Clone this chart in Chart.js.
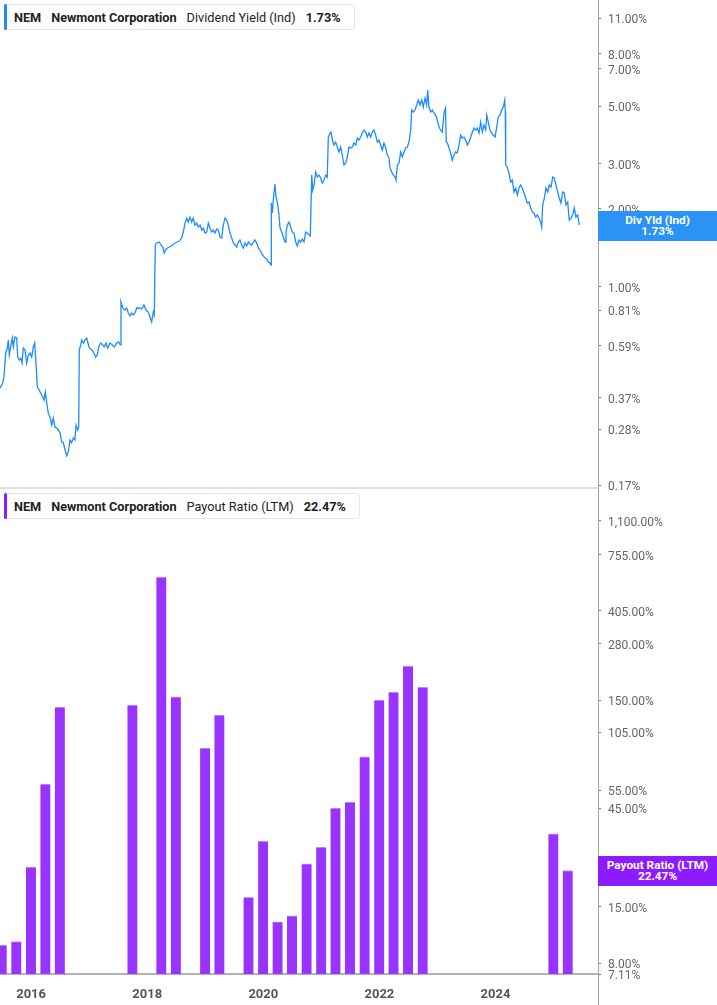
<!DOCTYPE html>
<html>
<head>
<meta charset="utf-8">
<title>NEM dividend yield and payout ratio</title>
<script src="https://cdn.jsdelivr.net/npm/chart.js@4.4.1/dist/chart.umd.min.js"></script>
<style>
  html, body { margin: 0; padding: 0; background: #fff; }
  body { width: 717px; height: 1005px; position: relative; overflow: hidden; font-family: Roboto, sans-serif; }
  .panel { position: absolute; left: 0; width: 717px; }
  #topPanel { top: 0; height: 496px; }
  #botPanel { top: 489px; height: 516px; }
  .legend {
    position: absolute; left: 4px; height: 26px; box-sizing: border-box;
    border: 1px solid #e6e6e6; border-radius: 3px; background: #fff;
    display: flex; align-items: center; gap: 10px;
    padding: 0 13px 0 9px; font-size: 12.7px; color: #222; white-space: nowrap;
  }
  .legend .bar { position: absolute; left: -1px; top: -1px; bottom: -1px; width: 3px; border-radius: 2px; }
  .legend b { font-weight: 700; }
  .tag {
    position: absolute; left: 598px; width: 119px; height: 30px; box-sizing: border-box;
    padding-top: 4px; color: #fff; font-weight: 700; font-size: 11.8px; line-height: 11px; text-align: center;
  }
  #axisLine { position: absolute; left: 598px; top: 0; width: 1px; height: 1005px; background: #a3a3a3; }
  #sep { position: absolute; left: 0; top: 487px; width: 598px; height: 2px; background: #e0e0e0; }
</style>
</head>
<body>
<div id="botPanel" class="panel"><canvas id="payoutChart" width="717" height="516"></canvas></div>
<div id="topPanel" class="panel"><canvas id="yieldChart" width="717" height="496"></canvas></div>
<div id="sep"></div>
<div id="axisLine"></div>

<div class="legend" style="top:4px">
  <span class="bar" style="background:#1e8cff"></span>
  <b>NEM</b><b>Newmont Corporation</b><span>Dividend Yield (Ind)</span><b>1.73%</b>
</div>
<div class="legend" style="top:493px">
  <span class="bar" style="background:#8c1cff"></span>
  <b>NEM</b><b>Newmont Corporation</b><span>Payout Ratio (LTM)</span><b>22.47%</b>
</div>
<div class="tag" style="top:211px;background:#2a93f5">Div Yld (Ind)<br>1.73%</div>
<div class="tag" style="top:856px;background:#8c1cff">Payout Ratio (LTM)<br>22.47%</div>

<script>
// time window shared by both panels (decimal years)
var xMin = 2015.464;
var xMax = 2025.766;
var yearTicks = [2016, 2018, 2020, 2022, 2024];

// dividend yield (ind), %
var lineYears = [
  2015.464, 2015.511, 2015.533, 2015.562, 2015.590, 2015.607, 2015.624, 2015.653, 2015.676, 2015.693,
  2015.722, 2015.752, 2015.769, 2015.796, 2015.821, 2015.843, 2015.865, 2015.895, 2015.924, 2015.952,
  2015.981, 2016.010, 2016.038, 2016.062, 2016.084, 2016.107, 2016.141, 2016.165, 2016.200, 2016.222,
  2016.244, 2016.269, 2016.296, 2016.325, 2016.355, 2016.382, 2016.411, 2016.441, 2016.469, 2016.498,
  2016.527, 2016.555, 2016.584, 2016.613, 2016.641, 2016.670, 2016.699, 2016.727, 2016.756, 2016.774,
  2016.803, 2016.820, 2016.830, 2016.854, 2016.872, 2016.899, 2016.928, 2016.958, 2016.980, 2017.003,
  2017.044, 2017.071, 2017.113, 2017.140, 2017.164, 2017.199, 2017.233, 2017.261, 2017.290, 2017.319,
  2017.359, 2017.399, 2017.433, 2017.474, 2017.509, 2017.536, 2017.548, 2017.578, 2017.617, 2017.647,
  2017.674, 2017.704, 2017.733, 2017.760, 2017.790, 2017.819, 2017.864, 2017.905, 2017.945, 2017.979,
  2018.019, 2018.048, 2018.077, 2018.105, 2018.122, 2018.139, 2018.163, 2018.208, 2018.237, 2018.267,
  2018.294, 2018.324, 2018.353, 2018.381, 2018.410, 2018.439, 2018.479, 2018.518, 2018.553, 2018.594,
  2018.622, 2018.651, 2018.680, 2018.708, 2018.737, 2018.766, 2018.794, 2018.823, 2018.853, 2018.880,
  2018.910, 2018.939, 2018.966, 2018.996, 2019.025, 2019.053, 2019.082, 2019.111, 2019.139, 2019.168,
  2019.197, 2019.225, 2019.254, 2019.283, 2019.311, 2019.340, 2019.369, 2019.397, 2019.426, 2019.456,
  2019.483, 2019.512, 2019.542, 2019.569, 2019.598, 2019.628, 2019.655, 2019.685, 2019.714, 2019.742,
  2019.771, 2019.800, 2019.828, 2019.857, 2019.886, 2019.914, 2019.943, 2019.972, 2020.000, 2020.029,
  2020.058, 2020.086, 2020.115, 2020.133, 2020.138, 2020.155, 2020.172, 2020.201, 2020.219, 2020.241,
  2020.265, 2020.288, 2020.317, 2020.345, 2020.374, 2020.391, 2020.414, 2020.443, 2020.472, 2020.500,
  2020.529, 2020.558, 2020.586, 2020.615, 2020.644, 2020.672, 2020.701, 2020.730, 2020.758, 2020.792,
  2020.810, 2020.834, 2020.851, 2020.873, 2020.903, 2020.930, 2020.960, 2020.989, 2021.016, 2021.046,
  2021.075, 2021.102, 2021.120, 2021.149, 2021.166, 2021.189, 2021.218, 2021.247, 2021.275, 2021.304,
  2021.333, 2021.361, 2021.390, 2021.420, 2021.447, 2021.476, 2021.506, 2021.533, 2021.562, 2021.592,
  2021.619, 2021.648, 2021.678, 2021.705, 2021.735, 2021.764, 2021.792, 2021.821, 2021.850, 2021.878,
  2021.907, 2021.936, 2021.964, 2021.993, 2022.022, 2022.050, 2022.079, 2022.109, 2022.136, 2022.165,
  2022.183, 2022.212, 2022.240, 2022.269, 2022.286, 2022.309, 2022.338, 2022.367, 2022.395, 2022.424,
  2022.453, 2022.481, 2022.510, 2022.539, 2022.557, 2022.584, 2022.613, 2022.643, 2022.670, 2022.700,
  2022.729, 2022.756, 2022.786, 2022.815, 2022.832, 2022.854, 2022.884, 2022.911, 2022.941, 2022.970,
  2022.997, 2023.027, 2023.056, 2023.084, 2023.113, 2023.139, 2023.151, 2023.173, 2023.199, 2023.228,
  2023.256, 2023.285, 2023.315, 2023.342, 2023.371, 2023.401, 2023.428, 2023.457, 2023.487, 2023.515,
  2023.544, 2023.573, 2023.601, 2023.630, 2023.659, 2023.687, 2023.716, 2023.745, 2023.773, 2023.802,
  2023.831, 2023.849, 2023.876, 2023.905, 2023.935, 2023.962, 2023.992, 2024.021, 2024.048, 2024.078,
  2024.107, 2024.135, 2024.159, 2024.169, 2024.176, 2024.203, 2024.233, 2024.262, 2024.290, 2024.319,
  2024.348, 2024.376, 2024.405, 2024.434, 2024.462, 2024.491, 2024.520, 2024.548, 2024.577, 2024.607,
  2024.634, 2024.663, 2024.693, 2024.720, 2024.750, 2024.779, 2024.796, 2024.813, 2024.841, 2024.870,
  2024.900, 2024.927, 2024.956, 2024.986, 2025.013, 2025.042, 2025.072, 2025.099, 2025.128, 2025.158,
  2025.185, 2025.214, 2025.244, 2025.271, 2025.301, 2025.330, 2025.357, 2025.387, 2025.416, 2025.444
];
var divYield = [
  0.404, 0.423, 0.446, 0.553, 0.578, 0.621, 0.543, 0.594, 0.632, 0.583,
  0.638, 0.632, 0.533, 0.519, 0.528, 0.505, 0.578, 0.568, 0.505, 0.543,
  0.553, 0.533, 0.583, 0.604, 0.505, 0.408, 0.397, 0.386, 0.373, 0.363,
  0.390, 0.354, 0.323, 0.312, 0.290, 0.309, 0.285, 0.283, 0.278, 0.271,
  0.250, 0.248, 0.233, 0.221, 0.229, 0.254, 0.248, 0.259, 0.254, 0.290,
  0.278, 0.285, 0.568, 0.594, 0.621, 0.604, 0.621, 0.632, 0.604, 0.578,
  0.568, 0.558, 0.533, 0.543, 0.583, 0.604, 0.594, 0.583, 0.604, 0.578,
  0.604, 0.594, 0.583, 0.604, 0.610, 0.594, 0.871, 0.826, 0.811, 0.826,
  0.790, 0.769, 0.790, 0.776, 0.790, 0.826, 0.826, 0.819, 0.848, 0.811,
  0.797, 0.762, 0.729, 0.797, 0.776, 1.450, 1.476, 1.489, 1.450, 1.424,
  1.349, 1.398, 1.411, 1.424, 1.437, 1.450, 1.476, 1.489, 1.502, 1.543,
  1.628, 1.763, 1.844, 1.779, 1.861, 1.779, 1.844, 1.732, 1.763, 1.702,
  1.732, 1.657, 1.687, 1.613, 1.628, 1.763, 1.687, 1.628, 1.657, 1.613,
  1.672, 1.657, 1.557, 1.543, 1.732, 1.844, 1.811, 1.732, 1.613, 1.543,
  1.476, 1.450, 1.424, 1.489, 1.516, 1.450, 1.411, 1.476, 1.437, 1.489,
  1.463, 1.450, 1.489, 1.516, 1.476, 1.411, 1.386, 1.349, 1.314, 1.290,
  1.279, 1.245, 1.234, 1.212, 2.109, 1.929, 2.166, 2.498, 2.225, 2.128,
  1.946, 1.687, 1.628, 1.557, 1.489, 1.628, 1.732, 1.779, 1.702, 1.628,
  1.613, 1.489, 1.437, 1.516, 1.489, 1.529, 1.489, 1.628, 1.613, 1.585,
  1.571, 2.707, 2.368, 2.476, 2.781, 2.659, 2.707, 2.636, 2.521, 2.589,
  2.707, 2.659, 3.801, 3.939, 3.974, 3.700, 3.539, 3.635, 3.476, 3.325,
  3.476, 3.237, 2.960, 3.013, 3.180, 3.476, 3.446, 3.476, 3.603, 3.539,
  3.767, 3.700, 3.801, 3.939, 4.046, 3.974, 3.801, 3.939, 3.801, 3.974,
  4.046, 3.869, 3.635, 3.700, 3.539, 3.385, 3.603, 3.446, 3.237, 3.151,
  2.882, 2.781, 2.707, 2.659, 2.589, 2.960, 3.013, 3.325, 3.180, 3.325,
  3.446, 3.476, 3.635, 4.046, 4.838, 4.752, 4.838, 5.059, 5.290, 5.059,
  5.290, 4.969, 5.385, 5.059, 5.784, 4.969, 4.752, 4.838, 4.710, 4.627,
  4.424, 4.156, 4.046, 3.974, 4.710, 4.925, 3.635, 3.603, 3.446, 3.296,
  3.095, 3.237, 3.325, 3.296, 3.539, 3.869, 3.767, 3.801, 3.700, 3.539,
  3.635, 3.801, 3.974, 4.119, 4.046, 4.119, 3.939, 4.346, 3.974, 4.231,
  4.046, 4.627, 4.346, 4.046, 3.939, 3.869, 3.801, 4.156, 4.545, 4.627,
  4.838, 4.969, 5.290, 4.752, 2.960, 2.908, 2.756, 2.544, 2.589, 2.326,
  2.411, 2.265, 2.411, 2.476, 2.411, 2.306, 2.205, 2.109, 2.128, 2.017,
  1.946, 1.929, 1.861, 1.895, 1.844, 1.779, 1.702, 2.071, 2.205, 2.411,
  2.326, 2.476, 2.432, 2.659, 2.636, 2.476, 2.326, 2.205, 2.109, 2.326,
  2.306, 2.071, 2.128, 1.811, 1.844, 1.895, 2.017, 1.861, 1.895, 1.730
];
var yieldTicks = [11, 8, 7, 5, 3, 2, 1, 0.81, 0.59, 0.37, 0.28, 0.17];

// payout ratio (LTM), %, one bar per reported quarter
var payoutDates = [
  '2015-06-30', '2015-09-30', '2015-12-31', '2016-03-31', '2016-06-30',
  '2017-09-30', '2018-03-31', '2018-06-30', '2018-12-31', '2019-03-31',
  '2019-09-30', '2019-12-31', '2020-03-31', '2020-06-30', '2020-09-30',
  '2020-12-31', '2021-03-31', '2021-06-30', '2021-09-30', '2021-12-31',
  '2022-03-31', '2022-06-30', '2022-09-30', '2024-12-31', '2025-03-31'
];
var payoutRatio = [
  9.8, 10.2, 23.4, 58.9, 138.8,
  141.9, 589.8, 155.2, 87.9, 126.9,
  16.7, 31.2, 12.7, 13.6, 24.2,
  29.2, 45.1, 48.2, 79.6, 150.0,
  164.0, 219.0, 173.4, 33.8, 22.47
];
var payoutTicks = [1100, 755, 405, 280, 150, 105, 55, 45, 25, 15, 8, 7.11];

Chart.defaults.font.family = 'Roboto, sans-serif';

function toYear(s) {
  var p = s.split('-');
  var y = +p[0];
  var start = Date.UTC(y, 0, 1);
  var end = Date.UTC(y + 1, 0, 1);
  return y + (Date.UTC(y, +p[1] - 1, +p[2]) - start) / (end - start);
}

function pct(v) {
  return v.toLocaleString('en-US', { minimumFractionDigits: 2, maximumFractionDigits: 2 }) + '%';
}

function rightAxis(min, max, tickList) {
  return {
    type: 'logarithmic',
    position: 'right',
    min: min,
    max: max,
    afterBuildTicks: function (axis) {
      axis.ticks = tickList.map(function (v) { return { value: v }; });
    },
    afterFit: function (axis) {
      axis.width = 119;
      axis.paddingTop = 0;
      axis.paddingBottom = 0;
    },
    grid: { display: true, drawOnChartArea: false, drawTicks: true, tickLength: 3, color: '#777' },
    border: { display: false },
    ticks: {
      autoSkip: false,
      padding: 7,
      labelOffset: 2,
      color: '#666',
      font: { size: 12 },
      callback: function (v) { return pct(v); }
    }
  };
}

var yieldPoints = [];
for (var i = 0; i < lineYears.length; i++) {
  yieldPoints.push({ x: lineYears[i], y: divYield[i] });
}

var payoutPoints = [];
for (var j = 0; j < payoutDates.length; j++) {
  payoutPoints.push({ x: toYear(payoutDates[j]), y: payoutRatio[j] });
}

// DIVIDEND YIELD (canvas is 8px taller than its plot so the last label is not cut)
var yieldChart = new Chart(document.getElementById('yieldChart'), {
  type: 'line',
  data: {
    datasets: [{
      data: yieldPoints,
      borderColor: '#1e8cff',
      borderWidth: 1.3,
      pointRadius: 0,
      tension: 0
    }]
  },
  options: {
    responsive: false,
    animation: false,
    layout: { padding: { top: 0, left: 0, right: 0, bottom: 8 } },
    plugins: { legend: { display: false }, tooltip: { enabled: false } },
    scales: {
      x: { type: 'linear', min: xMin, max: xMax, display: false },
      y: rightAxis(0.1656, 12.92, yieldTicks)
    }
  }
});

// PAYOUT RATIO
var payoutChart = new Chart(document.getElementById('payoutChart'), {
  type: 'bar',
  data: {
    datasets: [{
      data: payoutPoints,
      backgroundColor: '#9933ff',
      borderColor: '#c39bff',
      borderWidth: { top: 1, left: 0, right: 0, bottom: 0 },
      barThickness: 10
    }]
  },
  options: {
    responsive: false,
    animation: false,
    layout: { padding: 0 },
    plugins: { legend: { display: false }, tooltip: { enabled: false } },
    scales: {
      x: {
        type: 'linear',
        min: xMin,
        max: xMax,
        offset: false,
        afterBuildTicks: function (axis) {
          axis.ticks = yearTicks.map(function (v) { return { value: v }; });
        },
        afterFit: function (axis) {
          axis.height = 31;
          axis.paddingLeft = 0;
          axis.paddingRight = 0;
        },
        grid: { display: false },
        border: { display: true, color: '#b3b3b3', width: 2 },
        ticks: {
          autoSkip: false,
          maxRotation: 0,
          padding: 5,
          color: '#555',
          font: { size: 13, weight: 'bold' },
          callback: function (v) { return String(v); }
        }
      },
      y: rightAxis(7.11, 1570, payoutTicks)
    }
  }
});
</script>
</body>
</html>
